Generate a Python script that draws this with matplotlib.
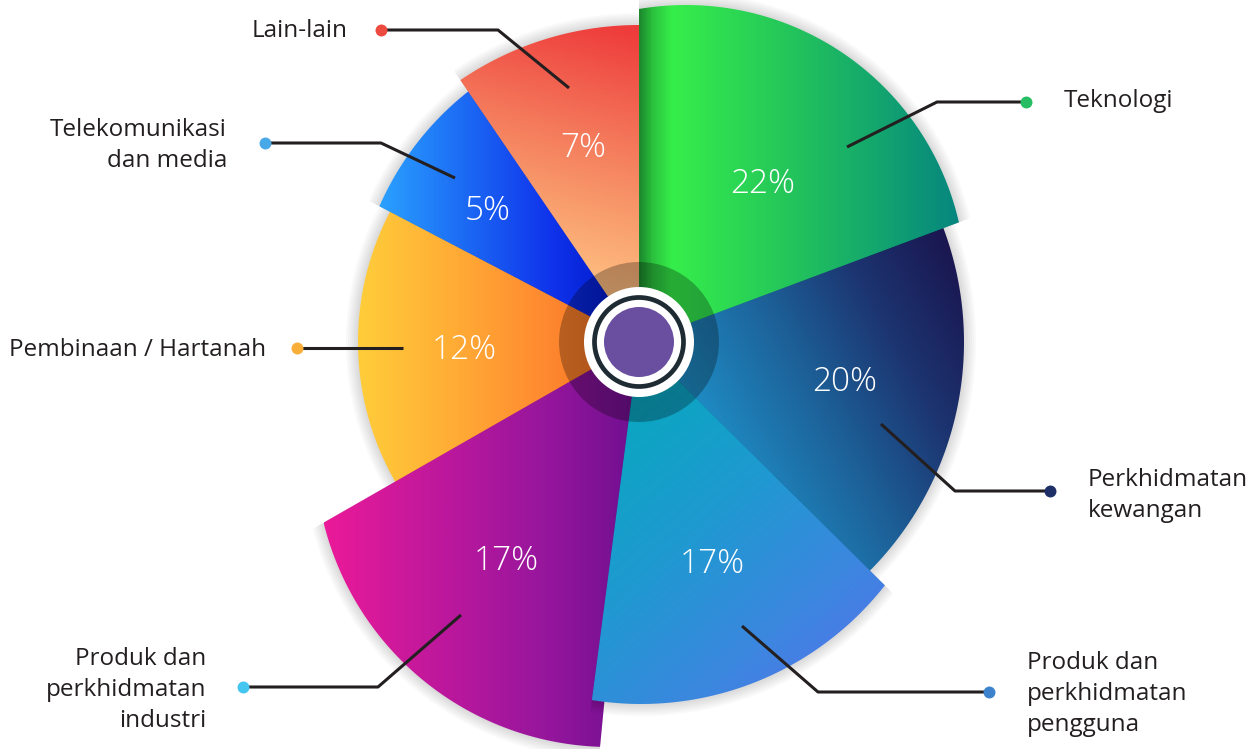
import numpy as np
import matplotlib.pyplot as plt
from matplotlib.colors import LinearSegmentedColormap
from matplotlib.patches import Polygon, Circle

# data
sectors = ["Teknologi", "Perkhidmatan kewangan", "Produk dan perkhidmatan pengguna",
           "Produk dan perkhidmatan industri", "Pembinaan / Hartanah",
           "Telekomunikasi dan media", "Lain-lain"]
shares = [22, 20, 17, 17, 12, 5, 7]
label_lines = [["Teknologi"],
               ["Perkhidmatan", "kewangan"],
               ["Produk dan", "perkhidmatan", "pengguna"],
               ["Produk dan", "perkhidmatan", "industri"],
               ["Pembinaan / Hartanah"],
               ["Telekomunikasi", "dan media"],
               ["Lain-lain"]]

# layout (pixel space of the picture, y down)
CX, CY = 639, 342
angles = [(20.5, 90), (-50, 25), (-97.5, -44.7), (209.8, 264.5),
          (148, 215), (120, 152.4), (90, 124.3)]
arc_offset = [(47, -57), (0, 0), (2, 52), (-29, 110), (0, 0), (15, -15), (0, 0)]
arc_radius = [280, 325, 310, 295, 281, 300, 317]
draw_order = [4, 1, 5, 3, 0, 6, 2]

gradients = [
    ((639, 0), (960, 0), ["#1c8a2d", "#2cc23e", "#36ee4a", "#25c75a", "#13a56e", "#06857f"], [0, .04, .1, .45, .75, 1]),
    ((690, 420), (965, 270), ["#1f90c8", "#1d5f97", "#1c3470", "#1a1650"], [0, .4, .7, 1]),
    ((625, 400), (885, 700), ["#09a7c0", "#1e9ad0", "#3d86e0", "#5b6cee"], [0, .35, .7, 1]),
    ((323, 0), (640, 0), ["#ea1a99", "#c0189c", "#96169c", "#6e0f90"], [0, .35, .7, 1]),
    ((358, 0), (600, 0), ["#ffcd3a", "#ffb036", "#ff8c30", "#f67526"], [0, .35, .75, 1]),
    ((381, 0), (620, 0), ["#2aa0ff", "#1c6af4", "#1035ec", "#0018cc"], [0, .35, .7, 1]),
    ((585, 300), (655, 35), ["#ffc585", "#f9a06e", "#f4775a", "#ee3b3b"], [0, .3, .6, 1]),
]

pct_pos = [(763, 184), (845, 382), (712, 564), (506, 561), (464, 350), (488, 211), (583, 148)]

leaders = [[(1026, 102), (937, 102), (847, 147)],
           [(1050, 491), (955, 491), (881, 424)],
           [(989, 692), (818, 692), (742, 626)],
           [(243, 687), (378, 687), (461, 615)],
           [(297, 348), (403, 348)],
           [(265, 143), (381, 143), (455, 178)],
           [(381, 30), (498, 30), (569, 88)]]
dot_colors = ["#27be63", "#1e2e66", "#3c82cc", "#45c6f0", "#f9ae38", "#49a8e8", "#ee4b40"]
label_anchor = [(1064, 107, "left"), (1088, 486, "left"), (1027, 669, "left"),
                (206, 665, "right"), (9, 356, "left"), (227, 136, "right"), (252, 37, "left")]
line_step = 31
text_color = "#231f20"


def wedge_points(i, grow=0.0, n=240):
    t1, t2 = angles[i]
    th = np.radians(np.linspace(t1, t2, n))
    ux, uy = np.cos(th), -np.sin(th)
    ox, oy = -arc_offset[i][0], -arc_offset[i][1]
    r = arc_radius[i] + grow
    b = ux * ox + uy * oy
    c = ox ** 2 + oy ** 2 - r ** 2
    s = -b + np.sqrt(b * b - c)
    pts = np.column_stack([CX + s * ux, CY + s * uy])
    return np.vstack([[CX, CY], pts])


def gradient_fill(ax, pts, p0, p1, colors, stops, z):
    x0, x1 = pts[:, 0].min(), pts[:, 0].max()
    y0, y1 = pts[:, 1].min(), pts[:, 1].max()
    gx, gy = np.meshgrid(np.linspace(x0, x1, int(x1 - x0) + 2),
                         np.linspace(y0, y1, int(y1 - y0) + 2))
    d = np.array(p1, float) - np.array(p0, float)
    t = ((gx - p0[0]) * d[0] + (gy - p0[1]) * d[1]) / (d @ d)
    cmap = LinearSegmentedColormap.from_list("g", list(zip(stops, colors)))
    im = ax.imshow(cmap(np.clip(t, 0, 1)), extent=(x0, x1, y1, y0), origin="upper",
                   interpolation="bilinear", zorder=z)
    patch = Polygon(pts, closed=True, facecolor="none", edgecolor="none", zorder=z)
    ax.add_patch(patch)
    im.set_clip_path(patch)


fig = plt.figure(figsize=(12.54, 7.49), dpi=100)
ax = fig.add_axes([0, 0, 1, 1])

for k, i in enumerate(draw_order):
    z = 2 + k
    # soft shadow
    for g in range(2, 14, 2):
        ax.add_patch(Polygon(wedge_points(i, grow=g), closed=True, facecolor="black",
                             edgecolor="none", alpha=0.025, zorder=z - 0.5))
    p0, p1, cols, st = gradients[i]
    gradient_fill(ax, wedge_points(i), p0, p1, cols, st, z)

# centre hub
ax.add_patch(Circle((CX, CY), 80, facecolor="black", alpha=0.27, edgecolor="none", zorder=20))
ax.add_patch(Circle((CX, CY), 55, facecolor="white", edgecolor="none", zorder=21))
ax.add_patch(Circle((CX, CY), 44.5, facecolor="none", edgecolor="#1e2b33", linewidth=3.4, zorder=22))
ax.add_patch(Circle((CX, CY), 35, facecolor="#6a4fa0", edgecolor="none", zorder=23))

# percentages
for i, v in enumerate(shares):
    ax.text(pct_pos[i][0], pct_pos[i][1], f"{v}%", color="white", fontsize=24,
            fontfamily="Open Sans", fontweight="light", ha="center", va="center", zorder=25)

# leader lines, dots and labels
for i in range(len(sectors)):
    xs = [p[0] for p in leaders[i]]
    ys = [p[1] for p in leaders[i]]
    ax.plot(xs, ys, color=text_color, linewidth=2.2, solid_capstyle="butt", zorder=26)
    ax.plot(xs[0], ys[0], "o", color=dot_colors[i], markersize=8.6, markeredgewidth=0, zorder=27)
    x, y, ha = label_anchor[i]
    for j, line in enumerate(label_lines[i]):
        ax.text(x, y + j * line_step, line, color=text_color, fontsize=17.5,
                fontfamily="Open Sans", ha=ha, va="baseline", zorder=27)

ax.set_xlim(0, 1254)
ax.set_ylim(749, 0)
ax.set_aspect("equal")
ax.axis("off")

plt.savefig("out.png", dpi=100)
